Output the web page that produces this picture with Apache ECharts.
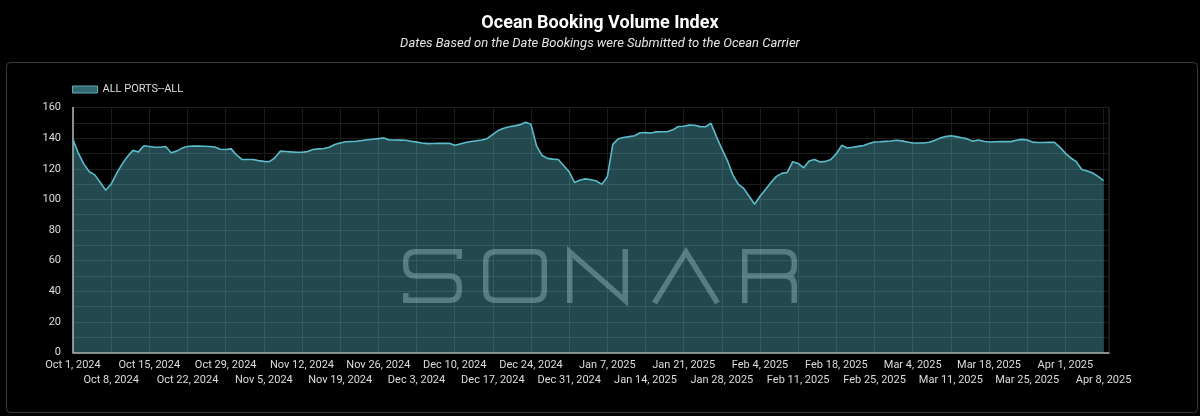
<!DOCTYPE html>
<html>
<head>
<meta charset="utf-8">
<title>Ocean Booking Volume Index</title>
<script src="https://cdn.jsdelivr.net/npm/echarts/dist/echarts.min.js"></script>
<style>
  html, body { margin: 0; padding: 0; background: #000; }
  #chartId { width: 1200px; height: 416px; }
</style>
</head>
<body>
<div id="chartId"></div>
<script>
const seriesName = 'ALL PORTS--ALL';

// one value per day, starting Oct 1, 2024 (index = days since start)
const indexValues = [
  139, 130, 123, 118, 116, 111, 106, 110, 117, 123,
  128, 132, 131, 135, 134.5, 134, 134, 134.5, 130.5, 131.5,
  133.5, 134.5, 134.8, 134.8, 134.7, 134.5, 134.2, 132.7, 132.6, 133,
  129, 126, 126, 126, 125.3, 124.8, 124.6, 127, 131.5, 131.3,
  131, 130.8, 130.8, 131.2, 132.6, 133, 133.2, 134, 135.8, 136.8,
  137.6, 137.8, 138, 138.4, 138.9, 139.3, 139.7, 140.1, 138.8, 138.8,
  138.7, 138.6, 138, 137.4, 136.8, 136.4, 136.5, 136.6, 136.6, 136.6,
  135.3, 136.2, 137.1, 137.8, 138.3, 138.8, 139.8, 142.5, 145, 146.5,
  147.4, 148, 148.8, 150.3, 149, 135, 128.8, 126.8, 126.3, 126,
  122, 118, 111, 112.6, 113.4, 112.8, 112, 109.8, 114.8, 135.9,
  139.6, 140.4, 141, 141.6, 143.5, 143.6, 143.3, 144.1, 144.2, 144.2,
  145.4, 147.6, 147.8, 148.5, 148.4, 147.5, 147.4, 149.7, 141, 133,
  125.5, 116, 110, 107.2, 102, 96.8, 102, 106.5, 111, 115,
  117, 117.6, 124.6, 123.5, 120.6, 125, 126.1, 124.4, 124.8, 126,
  130, 135.3, 133.5, 134, 134.6, 135.2, 136.5, 137.5, 137.6, 137.9,
  138.1, 138.6, 138.2, 137.5, 136.8, 136.8, 136.8, 137.3, 138.4, 140,
  141, 141.6, 141, 140.3, 139.5, 137.9, 138.8, 138, 137.5, 137.6,
  137.7, 137.7, 137.7, 138.6, 139.2, 138.8, 137.4, 137.1, 137.1, 137.2,
  137.3, 134, 130.2, 127, 124.6, 119.5, 118.5, 117.2, 115, 112.2,
];

// weekly tick labels, one every 7 days
const tickLabels = [
  'Oct 1, 2024', 'Oct 8, 2024', 'Oct 15, 2024', 'Oct 22, 2024', 'Oct 29, 2024',
  'Nov 5, 2024', 'Nov 12, 2024', 'Nov 19, 2024', 'Nov 26, 2024', 'Dec 3, 2024',
  'Dec 10, 2024', 'Dec 17, 2024', 'Dec 24, 2024', 'Dec 31, 2024', 'Jan 7, 2025',
  'Jan 14, 2025', 'Jan 21, 2025', 'Jan 28, 2025', 'Feb 4, 2025', 'Feb 11, 2025',
  'Feb 18, 2025', 'Feb 25, 2025', 'Mar 4, 2025', 'Mar 11, 2025', 'Mar 18, 2025',
  'Mar 25, 2025', 'Apr 1, 2025', 'Apr 8, 2025',
];

const yTicks = [0, 20, 40, 60, 80, 100, 120, 140, 160];

const lineColor = '#5bbccb';
const gridLineColor = '#1d1d1d';

// SONAR watermark, stroked letters
const watermarkPath = [
  // S
  'M 459.25 259 L 459.25 251.75 L 415.75 251.75 Q 405.75 251.75 405.75 261.75 L 405.75 266',
  'Q 405.75 276 415.75 276 L 449.25 276 Q 459.25 276 459.25 286 L 459.25 290.25',
  'Q 459.25 300.25 449.25 300.25 L 405.75 300.25 L 405.75 293',
  // O
  'M 495.75 251.75 L 534.25 251.75 Q 544.25 251.75 544.25 261.75 L 544.25 290.25',
  'Q 544.25 300.25 534.25 300.25 L 495.75 300.25 Q 485.75 300.25 485.75 290.25',
  'L 485.75 261.75 Q 485.75 251.75 495.75 251.75 Z',
  // N
  'M 569.75 303 L 569.75 252 L 625.25 300.5 L 625.25 249',
  // A (no crossbar)
  'M 654.5 303 L 686 252 L 717.5 303',
  // R
  'M 744.75 303 L 744.75 251.75 L 784.25 251.75 Q 794.25 251.75 794.25 261.75 L 794.25 266',
  'Q 794.25 276 784.25 276 L 744.75 276 M 784.25 276 Q 794.25 276 794.25 286 L 794.25 303',
].join(' ');

// graphic component has no plain 'path' type, so register the watermark as a shape
echarts.graphic.registerShape('sonarMark', echarts.graphic.extendPath(watermarkPath, {}));

// two label rows: even weeks on the first row, odd weeks on the second
const weekLabel = (row) => (value) => {
  if (value % 7 !== 0) return '';
  const idx = value / 7;
  return idx % 2 === row ? (tickLabels[idx] || '') : '';
};

const baseXAxis = {
  type: 'value',
  min: 0,
  max: 190,
  interval: 7,
  axisTick: { show: false },
};

const option = {
  backgroundColor: '#000',
  animation: false,
  textStyle: { fontFamily: 'Roboto' },
  title: {
    text: 'Ocean Booking Volume Index',
    subtext: 'Dates Based on the Date Bookings were Submitted to the Ocean Carrier',
    left: 'center',
    top: 9,
    itemGap: 5,
    textStyle: { color: '#fff', fontSize: 18, fontWeight: 'bold', fontFamily: 'Roboto' },
    subtextStyle: { color: '#e6e6e6', fontSize: 13, fontStyle: 'italic', fontFamily: 'Roboto' },
  },
  legend: {
    left: 72,
    top: 84,
    padding: 0,
    icon: 'rect',
    itemWidth: 25,
    itemHeight: 7,
    itemGap: 10,
    selectedMode: false,
    textStyle: { color: '#dddddd', fontSize: 11 },
    data: [{
      name: seriesName,
      itemStyle: { color: '#336870', borderColor: '#5aaebb', borderWidth: 1 },
    }],
  },
  grid: {
    left: 73,
    right: 91,
    top: 107.5,
    bottom: 63.5,
    show: true,
    borderColor: '#2e2e2e',
    borderWidth: 1,
  },
  xAxis: [
    {
      ...baseXAxis,
      axisLine: { show: true, lineStyle: { color: '#b4b4b4', width: 1.5 } },
      splitLine: { show: true, lineStyle: { color: gridLineColor } },
      axisLabel: {
        color: '#dddddd', fontSize: 11, margin: 7,
        showMinLabel: true, showMaxLabel: true, formatter: weekLabel(0),
      },
    },
    {
      ...baseXAxis,
      position: 'bottom',
      axisLine: { show: false },
      splitLine: { show: false },
      axisLabel: {
        color: '#dddddd', fontSize: 11, margin: 22,
        showMinLabel: true, showMaxLabel: true, formatter: weekLabel(1),
      },
    },
  ],
  yAxis: {
    type: 'value',
    min: yTicks[0],
    max: yTicks[yTicks.length - 1],
    interval: 20,
    axisLine: { show: true, lineStyle: { color: '#b4b4b4', width: 1.5 } },
    axisTick: { show: false },
    splitLine: { show: true, lineStyle: { color: gridLineColor } },
    minorTick: { show: false, splitNumber: 2 },
    minorSplitLine: { show: true, lineStyle: { color: gridLineColor } },
    axisLabel: { color: '#dddddd', fontSize: 11, margin: 12 },
  },
  series: [{
    name: seriesName,
    type: 'line',
    xAxisIndex: 0,
    data: indexValues.map((v, i) => [i, v]),
    symbol: 'none',
    smooth: false,
    lineStyle: { color: lineColor, width: 1.6 },
    itemStyle: { color: lineColor },
    areaStyle: { color: lineColor, opacity: 0.38 },
  }],
  graphic: [
    {
      type: 'rect',
      silent: true,
      z: 0,
      shape: { x: 6.5, y: 62.5, width: 1191, height: 350, r: 4 },
      style: { fill: null, stroke: '#3a3a3a', lineWidth: 1 },
    },
    {
      type: 'sonarMark',
      silent: true,
      z: 100,
      style: { fill: null, stroke: 'rgba(165,205,210,0.40)', lineWidth: 5.5, lineJoin: 'miter' },
    },
  ],
};

const chart = echarts.init(document.getElementById('chartId'));
chart.setOption(option);
</script>
</body>
</html>
